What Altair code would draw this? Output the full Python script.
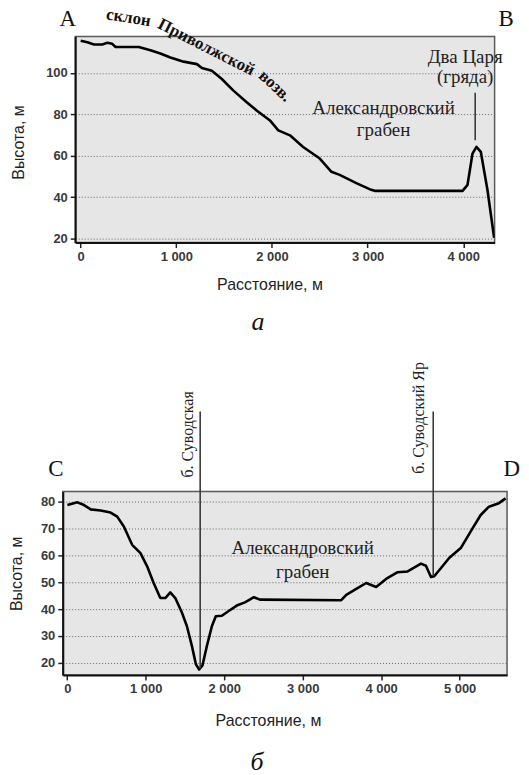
import altair as alt
import pandas as pd

# ---------------- data: profile A-B ----------------
ab_dist = [0, 70, 139, 226, 278, 330, 365, 608, 729, 833, 938, 1076, 1215, 1268, 1372,
           1476, 1597, 1736, 1840, 1979, 2066, 2188, 2326, 2500, 2622, 2708, 2882, 3021,
           3073, 3993, 4045, 4097, 4138, 4184, 4253, 4323]
ab_elev = [115.5, 114.8, 113.7, 113.7, 114.5, 114.0, 112.5, 112.5, 110.9, 109.3, 107.4,
           105.4, 104.2, 102.3, 101.0, 97.0, 91.4, 85.8, 81.8, 77.0, 72.2, 69.8, 64.2,
           58.6, 52.2, 50.7, 46.7, 43.8, 43.0, 43.0, 45.9, 61.0, 64.2, 61.8, 43.5, 20.3]

# ---------------- data: profile C-D ----------------
cd_dist = [2, 129, 214, 298, 425, 552, 637, 721, 827, 933, 1018, 1101, 1186, 1250, 1313,
           1377, 1462, 1525, 1589, 1640, 1681, 1723, 1779, 1843, 1893, 1970, 2053, 2160,
           2265, 2379, 2456, 3492, 3556, 3683, 3810, 3937, 4063, 4211, 4338, 4508, 4571,
           4635, 4677, 4761, 4867, 5015, 5142, 5269, 5374, 5501, 5586]
cd_elev = [78.7, 79.7, 78.7, 77.1, 76.7, 75.9, 74.4, 70.7, 63.9, 60.8, 55.9, 49.7, 44.1,
           44.1, 46.2, 44.1, 38.6, 33.6, 26.2, 19.4, 17.5, 19.0, 26.2, 33.6, 37.3, 37.5,
           39.2, 41.3, 42.5, 44.4, 43.5, 43.3, 45.3, 47.5, 49.7, 48.2, 51.2, 53.7, 54.0,
           56.9, 56.1, 51.9, 52.2, 55.2, 59.0, 62.7, 68.9, 75.0, 78.1, 79.4, 81.2]

ab_xticks = [0, 1000, 2000, 3000, 4000]
ab_yticks = [20, 40, 60, 80, 100]
cd_xticks = [0, 1000, 2000, 3000, 4000, 5000]
cd_yticks = [20, 30, 40, 50, 60, 70, 80]

# annotations (text, distance, elevation)
ab_corner = pd.DataFrame({"t": ["A", "B"], "x": [-135, 4448], "y": [126.0, 126.0]})
ab_slope = pd.DataFrame({"t": ["склон", "Приволжской", "возв."],
                         "x": [500, 1313, 2032], "y": [126.6, 112.4, 93.6],
                         "a": [9, 27, 43]})
ab_graben = pd.DataFrame({"t": ["Александровский", "грабен"],
                          "x": [3167, 3167], "y": [83.2, 72.2]})
ab_tsar = pd.DataFrame({"t": ["Два Царя", "(гряда)"],
                        "x": [4020, 4020], "y": [107.5, 98.0]})
ab_rule = pd.DataFrame({"x": [4125], "y": [90.4], "y2": [67.4]})
ab_sub = pd.DataFrame({"t": ["а"], "x": [1854], "y": [-20.4]})

cd_corner = pd.DataFrame({"t": ["C", "D"], "x": [-146, 5666], "y": [92.0, 92.0]})
cd_graben = pd.DataFrame({"t": ["Александровский", "грабен"],
                          "x": [3001, 3001], "y": [62.7, 53.8]})
cd_gully = pd.DataFrame({"t": ["б. Суводская", "б. Суводский Яр"],
                         "x": [1542, 4486], "y": [105.0, 111.1]})
cd_rule = pd.DataFrame({"x": [1694, 4664], "y": [113.5, 113.5], "y2": [18.0, 52.3]})
cd_sub = pd.DataFrame({"t": ["б"], "x": [2418], "y": [-17.1]})

SERIF = "Liberation Serif"
SANS = "Liberation Sans"
LBL = "replace(format(datum.value, ','), ',', ' ')"


def panel(dist, elev, xdom, ydom, xticks, yticks, w, h, xt, yt, corner, graben,
          gfont, rules, sub, extra):
    X = alt.X("x:Q", scale=alt.Scale(domain=xdom, nice=False, zero=False),
              axis=alt.Axis(values=xticks, labelExpr=LBL, title="Расстояние, м",
                            grid=False, titleX=xt[0], titleY=xt[1],
                            titleBaseline="middle"))
    Y = alt.Y("y:Q", scale=alt.Scale(domain=ydom, nice=False, zero=False),
              axis=alt.Axis(values=yticks, title="Высота, м", grid=True,
                            titleX=yt[0], titleY=yt[1], titleBaseline="middle",
                            titleAlign="center"))
    line_df = pd.DataFrame({"x": dist, "y": elev})
    line = alt.Chart(line_df).mark_line(color="black", strokeWidth=2.6,
                                        strokeJoin="round", clip=True).encode(x=X, y=Y)
    rule = alt.Chart(rules).mark_rule(color="#3a3a3a", strokeWidth=1.6).encode(
        x=X, y=Y, y2="y2:Q")
    corn = alt.Chart(corner).mark_text(font=SERIF, fontSize=23, color="#111",
                                       baseline="middle").encode(x=X, y=Y, text="t:N")
    grab = alt.Chart(graben).mark_text(font=SERIF, fontSize=gfont, color="#222",
                                       baseline="middle").encode(x=X, y=Y, text="t:N")
    subt = alt.Chart(sub).mark_text(font=SERIF, fontSize=26, fontStyle="italic",
                                    color="#111", baseline="middle").encode(
        x=X, y=Y, text="t:N")
    layers = [line, rule, corn, grab, subt] + [e(X, Y) for e in extra]
    return alt.layer(*layers).properties(width=w, height=h)


def slope_text(X, Y):
    return alt.Chart(ab_slope).mark_text(font=SERIF, fontSize=17, fontWeight="bold",
                                         color="#111", baseline="middle").encode(
        x=X, y=Y, text="t:N", angle=alt.Angle("a:Q", scale=None))


def tsar_text(X, Y):
    return alt.Chart(ab_tsar).mark_text(font=SERIF, fontSize=19, color="#222",
                                        baseline="middle").encode(x=X, y=Y, text="t:N")


def gully_text(X, Y):
    return alt.Chart(cd_gully).mark_text(font=SERIF, fontSize=16, color="#222",
                                         baseline="middle", angle=270).encode(
        x=X, y=Y, text="t:N")


top = panel(ab_dist, ab_elev, [-57, 4328], [18, 117.6], ab_xticks, ab_yticks, 421, 207,
            (195, 42), (-57, 106), ab_corner, ab_graben, 19, ab_rule, ab_sub,
            [slope_text, tsar_text])
bottom = panel(cd_dist, cd_elev, [-57, 5605], [15.5, 83.7], cd_xticks, cd_yticks, 446, 184,
               (206, 46), (-46, 82), cd_corner, cd_graben, 19, cd_rule, cd_sub,
               [gully_text])

chart = alt.vconcat(top, bottom, spacing=250, center=True, bounds="flush").properties(
    padding={"left": 0, "top": -5, "right": 0, "bottom": 0}
).configure_view(
    fill="#e6e6e6", stroke="#5a5a5a", strokeWidth=1.5
).configure_axis(
    labelFont=SANS, labelFontSize=13, labelColor="#3a3a3a", labelPadding=3,
    labelFontWeight="bold",
    titleFont=SANS, titleFontSize=16, titleColor="#222", titleFontWeight="normal",
    tickSize=5, tickColor="#222", tickWidth=1.5,
    domainColor="#111", domainWidth=2,
    gridColor="#666", gridDash=[1, 2], gridWidth=1
)

chart.save("out.html", embed_options={"renderer": "svg", "actions": False})
